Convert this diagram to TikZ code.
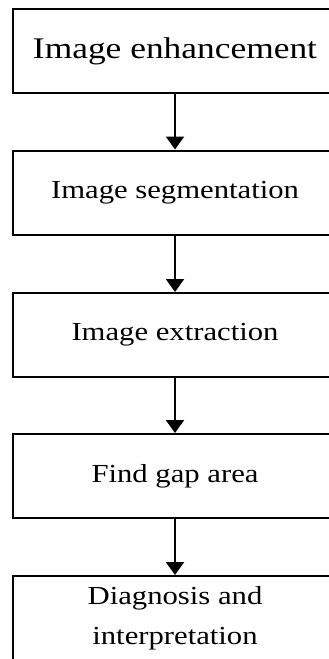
\documentclass[tikz,border=0pt]{standalone}
\usepackage{fontspec}
\newfontfamily\boxfont{Liberation Serif}[FakeStretch=1.18]
\usetikzlibrary{arrows.meta}
\begin{document}
\begin{tikzpicture}[x=1pt,y=-1pt,
  stepbox/.style={draw=black, line width=2pt, fill=white, minimum width=324pt, minimum height=84pt, inner sep=0pt, align=center, font=\boxfont\fontsize{26}{40}\selectfont},
  bigtext/.style={font=\boxfont\fontsize{30}{36}\selectfont},
  flow/.style={line width=2pt, -{Triangle[width=18pt,length=13pt]}}]
\useasboundingbox (0,0) rectangle (329,659);
\fill[white] (0,0) rectangle (329,659);
\node[stepbox, bigtext] (b1) at (175,51) {Image enhancement};
\node[stepbox] (b2) at (175,192.5) {Image segmentation};
\node[stepbox] (b3) at (175,335) {Image extraction};
\node[stepbox] (b4) at (175,476) {Find gap area};
\node[stepbox] (b5) at (175,618) {Diagnosis and\\interpretation};
\draw[flow] (b1) -- (b2);
\draw[flow] (b2) -- (b3);
\draw[flow] (b3) -- (b4);
\draw[flow] (b4) -- (b5);
\end{tikzpicture}
\end{document}
